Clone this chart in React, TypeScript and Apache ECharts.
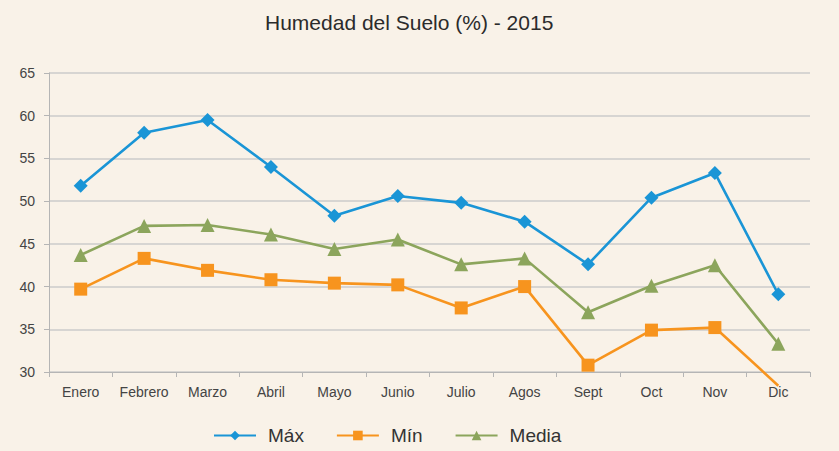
import React, { useEffect, useRef } from "react";
import * as echarts from "echarts";

const months = ["Enero", "Febrero", "Marzo", "Abril", "Mayo", "Junio", "Julio", "Agos", "Sept", "Oct", "Nov", "Dic"];
const maxValues = [51.8, 58.0, 59.5, 54.0, 48.3, 50.6, 49.8, 47.6, 42.6, 50.4, 53.3, 39.1];
const minValues = [39.7, 43.3, 41.9, 40.8, 40.4, 40.2, 37.5, 40.0, 30.8, 34.9, 35.2, 28.4];
const meanValues = [43.7, 47.1, 47.2, 46.1, 44.4, 45.5, 42.6, 43.3, 37.0, 40.1, 42.5, 33.3];

const FONT = "'Liberation Sans', Arial, sans-serif";
const BG = "#f9f2e8";

export default function App() {
  const ref = useRef<HTMLDivElement>(null);

  useEffect(() => {
    if (!ref.current) return;
    const chart = echarts.init(ref.current, null, { renderer: "svg" });
    const axisMin = 30;
    // Points below the axis minimum keep their segment but hide the marker
    const minData = minValues.map((v) => (v < axisMin ? { value: v, symbol: "none" } : v));

    chart.setOption({
      animation: false,
      backgroundColor: BG,
      textStyle: { fontFamily: FONT },
      title: {
        text: "Humedad del Suelo (%) - 2015",
        left: 260,
        top: 7,
        textStyle: { fontFamily: FONT, fontSize: 21, fontWeight: "normal", color: "#2b2b2b" },
      },
      grid: { left: 49, right: 29, top: 73, bottom: 79 },
      legend: {
        left: 208,
        top: 421,
        itemWidth: 42,
        itemHeight: 12,
        itemGap: 32,
        textStyle: { fontFamily: FONT, fontSize: 19, color: "#333", padding: [0, 0, 0, 7] },
        data: ["Máx", "Mín", "Media"],
      },
      xAxis: {
        type: "category",
        data: months,
        boundaryGap: true,
        axisLine: { lineStyle: { color: "#b5b5b5", width: 1 } },
        axisTick: { show: true, length: 5, interval: 0, lineStyle: { color: "#b5b5b5" } },
        axisLabel: { color: "#444", fontSize: 14, fontFamily: FONT, margin: 13, interval: 0 },
      },
      yAxis: {
        type: "value",
        min: 30,
        max: 65,
        interval: 5,
        axisLine: { show: true, lineStyle: { color: "#b5b5b5", width: 1 } },
        axisTick: { show: true, length: 5, lineStyle: { color: "#b5b5b5" } },
        axisLabel: { color: "#444", fontSize: 14, fontFamily: FONT, margin: 14 },
        splitLine: { lineStyle: { color: "#cbcbcb", width: 1.5 } },
      },
      series: [
        {
          name: "Máx",
          type: "line",
          data: maxValues,
          symbol: "diamond",
          symbolSize: 14,
          color: "#1a95d6",
          lineStyle: { width: 2.6 },
        },
        {
          name: "Mín",
          type: "line",
          data: minData,
          symbol: "rect",
          symbolSize: 13,
          color: "#f7941e",
          lineStyle: { width: 2.6 },
          clip: false,
        },
        {
          name: "Media",
          type: "line",
          data: meanValues,
          symbol: "triangle",
          symbolSize: 14,
          color: "#8ca55c",
          lineStyle: { width: 2.6 },
        },
      ],
    });
    return () => chart.dispose();
  }, []);

  return (
    <div
      ref={ref}
      style={{ position: "absolute", left: 0, top: 0, width: 839, height: 451, background: BG }}
    />
  );
}
